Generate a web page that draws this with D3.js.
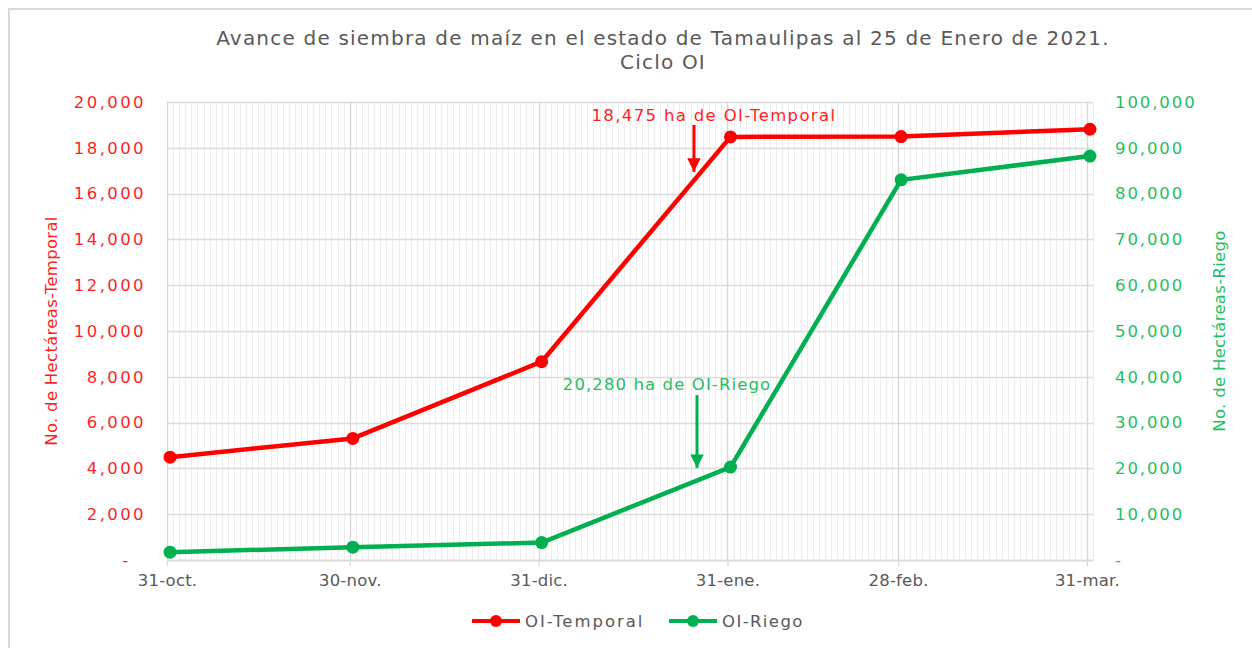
<!DOCTYPE html>
<html>
<head>
<meta charset="utf-8">
<script src="https://cdn.jsdelivr.net/npm/d3@7"></script>
<style>
body{margin:0;background:#fff;}
svg{display:block;}
svg text{font-family:"DejaVu Sans",sans-serif;}
</style>
</head>
<body>
<svg id="canvas"></svg>
<script>
// datos
let dates=["2020-10-31","2020-11-30","2020-12-31","2021-01-31","2021-02-28","2021-03-31"];
let tickLabels=["31-oct.","30-nov.","31-dic.","31-ene.","28-feb.","31-mar."];
let temporal=[4490,5310,8660,18475,18490,18810];
let riego=[1700,2800,3800,20280,83000,88200];
let seriesNames=["OI-Temporal","OI-Riego"];
let seriesColors=["#FF0000","#00B050"];
let leftTicks=[0,2000,4000,6000,8000,10000,12000,14000,16000,18000,20000];
let rightTicks=[0,10000,20000,30000,40000,50000,60000,70000,80000,90000,100000];

let width=1252;
let height=648;
let pLeft=167,pRight=1093,pTop=102,pBottom=560;

let canvas=d3.select("#canvas")
canvas.attr('width',width)
canvas.attr('height',height)

let parse=d3.utcParse("%Y-%m-%d");
let tickDates=dates.map(d=>parse(d));
// Excel centra cada punto en su dia
let pointDates=tickDates.map(d=>d3.utcHour.offset(d,12));

let xscale=d3.scaleUtc()
    .domain([tickDates[0],d3.utcDay.offset(tickDates[tickDates.length-1],1)])
    .range([pLeft,pRight]);
let yLeft=d3.scaleLinear().domain([0,20000]).range([pBottom,pTop]);
let yRight=d3.scaleLinear().domain([0,100000]).range([pBottom,pTop]);

// marco exterior
canvas.append('rect')
    .attr('x',9).attr('y',9)
    .attr('width',width).attr('height',height)
    .attr('fill','none')
    .attr('stroke','#D9D9D9')
    .attr('stroke-width',2);

// rejilla menor (diaria)
canvas.append('g').selectAll('line')
    .data(d3.utcDay.range(xscale.domain()[0],d3.utcDay.offset(xscale.domain()[1],1)))
    .enter().append('line')
    .attr('x1',d=>Math.round(xscale(d))+0.5).attr('x2',d=>Math.round(xscale(d))+0.5)
    .attr('y1',pTop).attr('y2',pBottom)
    .attr('stroke','#EDEDED').attr('stroke-width',1);

// rejilla mayor
canvas.append('g').selectAll('line')
    .data(leftTicks)
    .enter().append('line')
    .attr('x1',pLeft).attr('x2',pRight)
    .attr('y1',d=>Math.round(yLeft(d))+0.5).attr('y2',d=>Math.round(yLeft(d))+0.5)
    .attr('stroke','#DCDCDC').attr('stroke-width',1.3);
canvas.append('g').selectAll('line')
    .data(tickDates)
    .enter().append('line')
    .attr('x1',d=>Math.round(xscale(d))+0.5).attr('x2',d=>Math.round(xscale(d))+0.5)
    .attr('y1',pTop).attr('y2',pBottom)
    .attr('stroke','#D6D6D6').attr('stroke-width',1.3);

// ejes
let xAxis=d3.axisBottom(xscale)
    .tickValues(tickDates)
    .tickFormat((d,i)=>tickLabels[i])
    .tickSizeInner(6).tickSizeOuter(0).tickPadding(8);
let gx=canvas.append('g')
    .attr('id','x-axis')
    .attr('transform','translate(0,'+pBottom+')')
    .call(xAxis);
gx.select('.domain').attr('stroke','#D9D9D9').attr('stroke-width',1.5);
gx.selectAll('.tick line').attr('stroke','#D9D9D9').attr('stroke-width',1.3);
gx.selectAll('.tick text')
    .attr('fill','#595959')
    .style('font-size','16.5px')
    .style('letter-spacing','0.2px');

let fmt=d3.format(",");
let yAxisL=d3.axisLeft(yLeft)
    .tickValues(leftTicks)
    .tickFormat(d=>d===0?"-\u00a0\u00a0":fmt(d))
    .tickSize(0).tickPadding(21);
let gl=canvas.append('g')
    .attr('id','y-axis')
    .attr('transform','translate('+pLeft+',0)')
    .call(yAxisL);
gl.select('.domain').remove();
gl.selectAll('.tick text')
    .attr('fill','#FF1F1F')
    .style('font-size','16.5px')
    .style('letter-spacing','2.4px');

let yAxisR=d3.axisRight(yRight)
    .tickValues(rightTicks)
    .tickFormat(d=>d===0?"-":fmt(d))
    .tickSize(0).tickPadding(22);
let gr=canvas.append('g')
    .attr('id','y-axis-right')
    .attr('transform','translate('+pRight+',0)')
    .call(yAxisR);
gr.select('.domain').remove();
gr.selectAll('.tick text')
    .attr('fill','#1FBF62')
    .style('font-size','16.5px')
    .style('letter-spacing','1.9px');

// titulos de ejes
canvas.append('text')
    .attr('transform','translate(57,'+((pTop+pBottom)/2)+') rotate(-90)')
    .attr('text-anchor','middle')
    .attr('fill','#FF1F1F')
    .style('font-size','16.5px')
    .style('letter-spacing','0.3px')
    .text('No. de Hectáreas-Temporal');
canvas.append('text')
    .attr('transform','translate(1225,'+((pTop+pBottom)/2)+') rotate(-90)')
    .attr('text-anchor','middle')
    .attr('fill','#1FBF62')
    .style('font-size','16.5px')
    .style('letter-spacing','0.3px')
    .text('No. de Hectáreas-Riego');

// titulo
let title=canvas.append('text')
    .attr('text-anchor','middle')
    .attr('fill','#595959')
    .style('font-size','20px')
    .style('letter-spacing','1.2px');
title.append('tspan').attr('x',663).attr('y',45)
    .text('Avance de siembra de maíz en el estado de Tamaulipas al 25 de Enero de 2021.');
title.append('tspan').attr('x',663).attr('y',69)
    .text('Ciclo OI');

// series
let series=[temporal,riego];
let scales=[yLeft,yRight];
series.forEach((values,k)=>{
    let line=d3.line()
        .x((v,i)=>xscale(pointDates[i]))
        .y(v=>scales[k](v));
    canvas.append('path')
        .datum(values)
        .attr('d',line)
        .attr('fill','none')
        .attr('stroke',seriesColors[k])
        .attr('stroke-width',4.5)
        .attr('stroke-linejoin','round');
    canvas.append('g').selectAll('circle')
        .data(values)
        .enter().append('circle')
        .attr('cx',(v,i)=>xscale(pointDates[i]))
        .attr('cy',v=>scales[k](v))
        .attr('r',6.5)
        .attr('fill',seriesColors[k]);
});

// anotaciones
canvas.append('defs').selectAll('marker')
    .data(seriesColors)
    .enter().append('marker')
    .attr('id',(c,i)=>'arrow'+i)
    .attr('viewBox','0 0 10 10')
    .attr('refX',10).attr('refY',5)
    .attr('markerWidth',4.5).attr('markerHeight',4.5)
    .attr('markerUnits','strokeWidth')
    .attr('orient','auto')
    .append('path')
    .attr('d','M0,0L10,5L0,10Z')
    .attr('fill',c=>c);

let notes=[
    {text:"18,475 ha de OI-Temporal",date:"2021-01-25T12",from:19000,to:16950,scale:yLeft,dx:20,color:0,textAt:19170,ls:1.35},
    {text:"20,280 ha de OI-Riego",date:"2021-01-26T00",from:36000,to:20100,scale:yRight,dx:-30,color:1,textAt:37100,ls:1.1}
];
let parseHour=d3.utcParse("%Y-%m-%dT%H");
notes.forEach(n=>{
    let x=xscale(parseHour(n.date));
    canvas.append('line')
        .attr('x1',x).attr('x2',x)
        .attr('y1',n.scale(n.from)).attr('y2',n.scale(n.to))
        .attr('stroke',seriesColors[n.color])
        .attr('stroke-width',3)
        .attr('marker-end','url(#arrow'+n.color+')');
    canvas.append('text')
        .attr('x',x+n.dx).attr('y',n.scale(n.textAt))
        .attr('text-anchor','middle')
        .attr('fill',n.color===0?'#FF1F1F':'#1FBF62')
        .style('font-size','16.5px')
        .style('letter-spacing',n.ls+'px')
        .text(n.text);
});

// leyenda
let legend=canvas.append('g').attr('transform','translate(472,621)');
let lx=[0,197];
let lls=[1.95,1.4];
seriesNames.forEach((name,k)=>{
    let g=legend.append('g').attr('transform','translate('+lx[k]+',0)');
    g.append('line').attr('x1',0).attr('x2',48).attr('y1',0).attr('y2',0)
        .attr('stroke',seriesColors[k]).attr('stroke-width',4);
    g.append('circle').attr('cx',24).attr('cy',0).attr('r',6).attr('fill',seriesColors[k]);
    g.append('text').attr('x',53).attr('y',6)
        .attr('fill','#595959')
        .style('font-size','16.5px')
        .style('letter-spacing',lls[k]+'px')
        .text(name);
});
</script>
</body>
</html>
